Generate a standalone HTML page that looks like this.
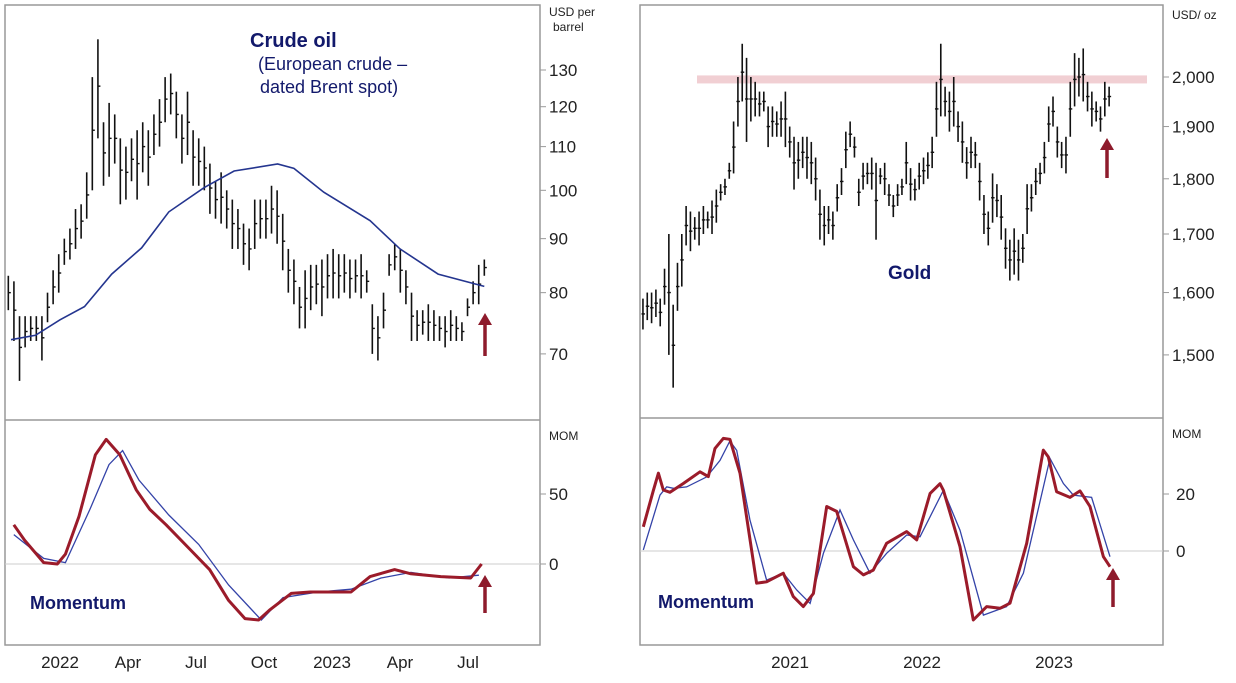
<!DOCTYPE html>
<html><head><meta charset="utf-8"><style>
body{margin:0;background:#fff;}
svg{display:block;font-family:"Liberation Sans",sans-serif;}
</style></head><body>
<svg id="c" width="1236" height="683" viewBox="0 0 1236 683">
<g id="g"></g>
</svg>
<script>
// ---- Crude oil data (weekly bars) ----
const oilStart = 2021.81;
const oilLo = [77,72,66,71,72,72,69,75,78,80,85,86,88,90,94,100,112,101,103,106,97,98,102,98,104,101,108,110,116,118,112,106,108,101,101,100,95,94,93,92,88,88,85,84,88,90,90,91,89,84,80,78,74,74,77,78,76,79,79,79,80,79,80,79,80,70,69,74,83,84,80,78,72,72,73,72,72,72,71,72,72,72,76,78,78,83];
const oilHi = [83,82,76,76,76,76,76,80,84,87,90,92,96,97,104,128,139,116,121,118,112,110,112,114,116,114,118,122,128,129,124,118,124,114,112,110,106,102,104,100,98,96,93,92,98,98,98,101,100,95,88,86,81,84,85,85,86,87,88,87,87,86,86,87,84,78,76,80,87,89,88,84,80,77,77,78,77,76,76,77,76,75,79,82,85,86];
const oilMaT = [2021.82,2021.91,2022.0,2022.09,2022.19,2022.3,2022.4,2022.53,2022.64,2022.8,2022.86,2022.97,2023.14,2023.25,2023.39,2023.56];
const oilMaV = [72.2,72.9,75.4,77.6,83.3,88.2,95.4,100.6,104.3,105.9,104.9,99.6,93.6,88,83.3,81.1];
const oilMomT = [2021.83,2021.87,2021.94,2021.99,2022.02,2022.07,2022.13,2022.17,2022.22,2022.28,2022.33,2022.39,2022.48,2022.55,2022.62,2022.68,2022.73,2022.77,2022.85,2022.92,2023.07,2023.14,2023.23,2023.29,2023.4,2023.51,2023.55];
const oilMomV = [28,17,1,0,7,34,78,89,78,53,39,28,10,-4,-26,-39,-40,-33,-21,-20,-20,-9,-4,-7,-9,-10,0];
const oilSigT = [2021.83,2021.94,2022.02,2022.11,2022.18,2022.23,2022.29,2022.4,2022.51,2022.62,2022.74,2022.82,2022.95,2023.07,2023.18,2023.29,2023.43,2023.54];
const oilSigV = [21,4,1,39,71,81,60,35,14,-15,-40,-24,-20,-18,-10,-6,-10,-8];
const oilTicks = [70,80,90,100,110,120,130];
const oilMomTicks = [0,50];
const oilXLabels = ["2022","Apr","Jul","Oct","2023","Apr","Jul"];
const oilXT = [2022,2022.25,2022.5,2022.75,2023,2023.25,2023.5];
// ---- Gold data ----
const goldStart = 2019.886, goldStep = 0.0327;
const goldLo = [1540,1555,1550,1560,1545,1580,1500,1450,1570,1610,1680,1670,1690,1680,1700,1710,1700,1720,1760,1770,1800,1810,1900,1950,1870,1910,1920,1920,1930,1860,1880,1880,1880,1860,1840,1780,1800,1820,1800,1790,1760,1690,1680,1700,1690,1740,1770,1820,1860,1840,1750,1780,1790,1780,1690,1790,1770,1750,1730,1750,1770,1790,1760,1760,1780,1790,1800,1820,1880,1920,1920,1890,1900,1870,1830,1800,1820,1820,1760,1700,1680,1720,1730,1690,1640,1620,1630,1620,1650,1700,1740,1770,1790,1810,1870,1900,1840,1820,1810,1880,1940,1960,1950,1930,1900,1910,1890,1920,1940];
const goldHi = [1590,1600,1600,1605,1590,1640,1700,1580,1650,1700,1750,1740,1730,1740,1750,1740,1760,1780,1790,1800,1830,1910,2000,2070,2040,2000,1990,1970,1970,1940,1940,1930,1950,1970,1900,1880,1870,1880,1880,1870,1840,1780,1750,1750,1740,1790,1820,1890,1910,1880,1800,1830,1830,1840,1830,1820,1830,1790,1770,1790,1800,1870,1820,1800,1830,1840,1850,1880,1990,2070,1980,1970,2000,1930,1910,1860,1880,1870,1830,1770,1740,1810,1790,1770,1710,1690,1710,1690,1700,1790,1790,1820,1830,1870,1940,1960,1900,1870,1880,1990,2050,2040,2060,1990,1970,1950,1940,1990,1980];
const goldTicks = [1500,1600,1700,1800,1900,2000];
const goldRef = 1995;
const goldMomT = [2019.889,2019.965,2020.003,2020.040,2020.091,2020.192,2020.318,2020.381,2020.432,2020.495,2020.545,2020.621,2020.747,2020.823,2020.949,2021.025,2021.101,2021.177,2021.278,2021.354,2021.480,2021.556,2021.631,2021.732,2021.884,2021.960,2022.061,2022.136,2022.162,2022.288,2022.389,2022.490,2022.591,2022.667,2022.793,2022.919,2022.957,2023.020,2023.121,2023.197,2023.273,2023.374,2023.424];
const goldMomV = [8.5,21.3,27.3,21.4,20.6,23.7,27.8,26.1,36.0,39.5,39.2,27.3,-11.3,-10.8,-7.8,-16.0,-19.5,-14.9,15.6,13.9,-5.5,-8.4,-6.7,2.7,6.8,3.9,20.2,23.6,21.3,1.5,-24.2,-19.5,-20.1,-18.3,2.7,35.4,33.0,20.8,18.8,21.1,15.6,-2.0,-5.5];
const goldSigT = [2019.889,2020.015,2020.066,2020.116,2020.217,2020.369,2020.470,2020.545,2020.596,2020.697,2020.823,2020.949,2021.051,2021.152,2021.253,2021.379,2021.480,2021.606,2021.732,2021.884,2021.985,2022.162,2022.288,2022.465,2022.641,2022.768,2022.970,2023.071,2023.146,2023.285,2023.424];
const goldSigV = [0.4,19.6,22.5,22.0,22.5,26.0,31.8,38.6,35.3,10.8,-10.2,-7.8,-13.7,-18.4,-0.8,14.4,3.9,-7.8,-0.8,5.6,5.0,21.3,7.3,-22.5,-19.5,-7.8,32.5,23.7,19.6,18.8,-2.0];
const goldMomTicks = [0,20];
const goldXLabels = ["2021","2022","2023"];
const goldXT = [2021,2022,2023];

const NS="http://www.w3.org/2000/svg";
const G=document.getElementById('g');
function el(tag,attrs,parent){const e=document.createElementNS(NS,tag);for(const k in attrs)e.setAttribute(k,attrs[k]);(parent||G).appendChild(e);return e;}
function txt(s,x,y,attrs){const e=el('text',Object.assign({x:x,y:y,fill:'#222','font-size':17},attrs||{}));e.textContent=s;return e;}

// axis functions
const oilX = t => 60 + (t-2022)*272;
const oilY = v => 70 - Math.log(v/130)*458.6;
const oilMY = v => 564 - 1.4*v;
const goldX = t => 790 + (t-2021)*132;
const goldY = v => 77 - Math.log(v/2000)*966;
const goldMY = v => 551 - 2.85*v;

// frames
let f;
f=el('rect',{x:5,y:5,width:535,height:640,fill:'none',stroke:'#999','stroke-width':1.5});

f=el('line',{x1:5,y1:420,x2:540,y2:420,stroke:'#999','stroke-width':1.5});

f=el('rect',{x:640,y:5,width:523,height:640,fill:'none',stroke:'#999','stroke-width':1.5});

f=el('line',{x1:640,y1:418,x2:1163,y2:418,stroke:'#999','stroke-width':1.5});


// zero lines
f=el('line',{x1:5,y1:oilMY(0),x2:540,y2:oilMY(0),stroke:'#ccc','stroke-width':1});

f=el('line',{x1:640,y1:goldMY(0),x2:1163,y2:goldMY(0),stroke:'#ccc','stroke-width':1});


// gold reference band
f=el('rect',{x:697,y:goldY(goldRef)-4,width:450,height:8,fill:'#f1cfd3'});


// y ticks
oilTicks.forEach(v=>{const y=oilY(v);
 f=el('line',{x1:540,y1:y,x2:546,y2:y,stroke:'#999'});
 f=txt(String(v),549,y+6);});
oilMomTicks.forEach(v=>{const y=oilMY(v);
 f=el('line',{x1:540,y1:y,x2:546,y2:y,stroke:'#999'});
 f=txt(String(v),549,y+6);});
goldTicks.forEach(v=>{const y=goldY(v);
 f=el('line',{x1:1163,y1:y,x2:1169,y2:y,stroke:'#999'});
 f=txt(v.toLocaleString('en-US'),1172,y+6);});
goldMomTicks.forEach(v=>{const y=goldMY(v);
 f=el('line',{x1:1163,y1:y,x2:1169,y2:y,stroke:'#999'});
 f=txt(String(v),1176,y+6);});

// x labels
oilXLabels.forEach((s,i)=>{f=txt(s,oilX(oilXT[i]),668,{'text-anchor':'middle'});});
goldXLabels.forEach((s,i)=>{f=txt(s,goldX(goldXT[i]),668,{'text-anchor':'middle'});});

// oil bars
oilLo.forEach((lo,i)=>{const x=oilX(oilStart+i*5.6/272);const hi=oilHi[i];
 const b=el('line',{x1:x,y1:oilY(hi),x2:x,y2:oilY(lo),stroke:'#111','stroke-width':1.6});
 
 const c=el('line',{x1:x,y1:oilY((lo+hi)/2),x2:x+2.5,y2:oilY((lo+hi)/2),stroke:'#111','stroke-width':1.4});
 });
// gold bars
goldLo.forEach((lo,i)=>{const x=goldX(goldStart+i*goldStep);const hi=goldHi[i];
 const b=el('line',{x1:x,y1:goldY(hi),x2:x,y2:goldY(lo),stroke:'#111','stroke-width':1.6});
 
 const c=el('line',{x1:x-1.5,y1:goldY((lo+hi)/2),x2:x+2,y2:goldY((lo+hi)/2),stroke:'#111','stroke-width':1.4});
 });

function poly(ts,vs,fx,fy){return ts.map((t,i)=>fx(t).toFixed(1)+','+fy(vs[i]).toFixed(1)).join(' ');}
f=el('polyline',{points:poly(oilMaT,oilMaV,oilX,oilY),fill:'none',stroke:'#24358f','stroke-width':1.6});

f=el('polyline',{points:poly(oilSigT,oilSigV,oilX,oilMY),fill:'none',stroke:'#3443a8','stroke-width':1.3});

f=el('polyline',{points:poly(oilMomT,oilMomV,oilX,oilMY),fill:'none',stroke:'#9b1b2a','stroke-width':3,'stroke-linejoin':'round'});

f=el('polyline',{points:poly(goldSigT,goldSigV,goldX,goldMY),fill:'none',stroke:'#3443a8','stroke-width':1.3});

f=el('polyline',{points:poly(goldMomT,goldMomV,goldX,goldMY),fill:'none',stroke:'#9b1b2a','stroke-width':3,'stroke-linejoin':'round'});


// arrows
function arrow(x,y1,y2,name){const g=el('g',{});
 
 el('line',{x1:x,y1:y1,x2:x,y2:y2+10,stroke:'#8e1b2c','stroke-width':3.5},g);
 el('polygon',{points:`${x-7},${y2+12} ${x+7},${y2+12} ${x},${y2}`,fill:'#8e1b2c'},g);}
arrow(485,356,313,'oil-price-arrow');
arrow(485,613,575,'oil-momentum-arrow');
arrow(1107,178,138,'gold-price-arrow');
arrow(1113,607,568,'gold-momentum-arrow');

// text labels
const navy='#12196b';
f=txt('Crude oil',250,47,{fill:navy,'font-weight':'bold','font-size':20});
f=txt('(European crude –',258,70,{fill:navy,'font-size':18});
f=txt('dated Brent spot)',260,93,{fill:navy,'font-size':18});
f=txt('Gold',888,279,{fill:navy,'font-weight':'bold','font-size':19});
f=txt('Momentum',30,609,{fill:navy,'font-weight':'bold','font-size':18});
f=txt('Momentum',658,608,{fill:navy,'font-weight':'bold','font-size':18});
f=txt('USD per',549,16,{'font-size':12});
f=txt('barrel',553,31,{'font-size':12});
f=txt('MOM',549,440,{'font-size':12});
f=txt('USD/ oz',1172,19,{'font-size':12});
f=txt('MOM',1172,438,{'font-size':12});
</script>
</body></html>
